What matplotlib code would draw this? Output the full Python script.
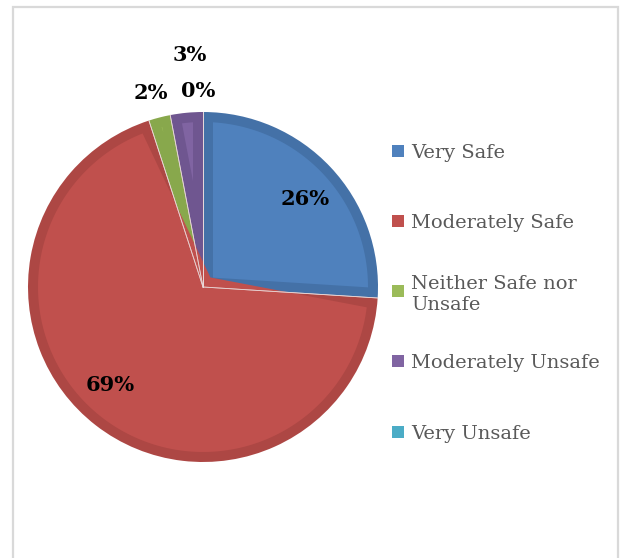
import matplotlib.pyplot as plt
from matplotlib.patches import Rectangle, Polygon
import numpy as np

categories = ["Very Safe", "Moderately Safe", "Neither Safe nor\nUnsafe",
              "Moderately Unsafe", "Very Unsafe"]
shares = [26, 69, 2, 3, 0]
pct_labels = ["26%", "69%", "2%", "3%", "0%"]

fill_colors = ["#4f81bd", "#c0504d", "#9bbb59", "#8064a2", "#4bacc6"]
rim_colors = ["#4471a7", "#ad4744", "#88a84c", "#6f5690", "#3f98af"]
# where each percent label sits: (radius in pie radii, angle in degrees)
label_pos = [(0.77, 40.5), (0.77, 226.5), (1.15, 105), (1.33, 93.2), (1.12, 91.5)]

W, H = 622, 558
fig = plt.figure(figsize=(W / 100, H / 100), dpi=100)

# light grey chart frame (bottom edge runs off the image)
fig.add_artist(Rectangle((13 / W, -0.05), 605 / W, (H - 7) / H + 0.05,
                         transform=fig.transFigure, fill=False,
                         edgecolor="#d9d9d9", linewidth=1.6))

cx, cy, r, half = 203, 287, 175, 200
ax = fig.add_axes([(cx - half) / W, (H - cy - half) / H, 2 * half / W, 2 * half / H])

# outer slices in the rim colour
wedges, _ = ax.pie(shares, colors=rim_colors, startangle=90, counterclock=False,
                   radius=1, wedgeprops=dict(linewidth=0))

lim = half / r
ax.set_xlim(-lim, lim)
ax.set_ylim(-lim, lim)
ax.set_aspect("equal")
ax.axis("off")

# lighter inset on each slice (bevel look)
t = 10 / r
rho = 1 - t
d = np.arcsin(t / rho)
for w, fc in zip(wedges, fill_colors):
    a1, a2 = np.deg2rad(sorted([w.theta1, w.theta2]))
    span = a2 - a1
    if span - 2 * d <= 0:
        continue
    mid = (a1 + a2) / 2
    if span < np.pi:
        apex = t / np.sin(span / 2)
    else:
        apex = -t / np.sin(np.pi - span / 2)
    ang = np.linspace(a1 + d, a2 - d, 150)
    pts = [(apex * np.cos(mid), apex * np.sin(mid))]
    pts += list(zip(rho * np.cos(ang), rho * np.sin(ang)))
    ax.add_patch(Polygon(pts, closed=True, facecolor=fc, edgecolor="none"))

# thin light seams between slices
for w in wedges:
    for a in (w.theta1, w.theta2):
        ax.plot([0, np.cos(np.deg2rad(a))], [0, np.sin(np.deg2rad(a))],
                color="#ead9d9", lw=0.6, alpha=0.8)

for lab, (dist, a) in zip(pct_labels, label_pos):
    a = np.deg2rad(a)
    ax.text(dist * np.cos(a), dist * np.sin(a), lab, ha="center", va="center",
            fontsize=15, fontweight="bold", family="DejaVu Serif", color="black")

# legend drawn by hand so the square lines up with the first text line
leg_y = [151, 221, 291, 361, 432]
for name, col, y in zip(categories, fill_colors, leg_y):
    fig.add_artist(Rectangle((392 / W, (H - y - 6) / H), 12 / W, 12 / H,
                             transform=fig.transFigure, facecolor=col,
                             edgecolor="none"))
    fig.text(411 / W, (H - y) / H, name, ha="left", va="center_baseline",
             fontsize=14, family="DejaVu Serif", color="#595959",
             linespacing=1.25)

fig.savefig("out.png", dpi=100, facecolor="white")
